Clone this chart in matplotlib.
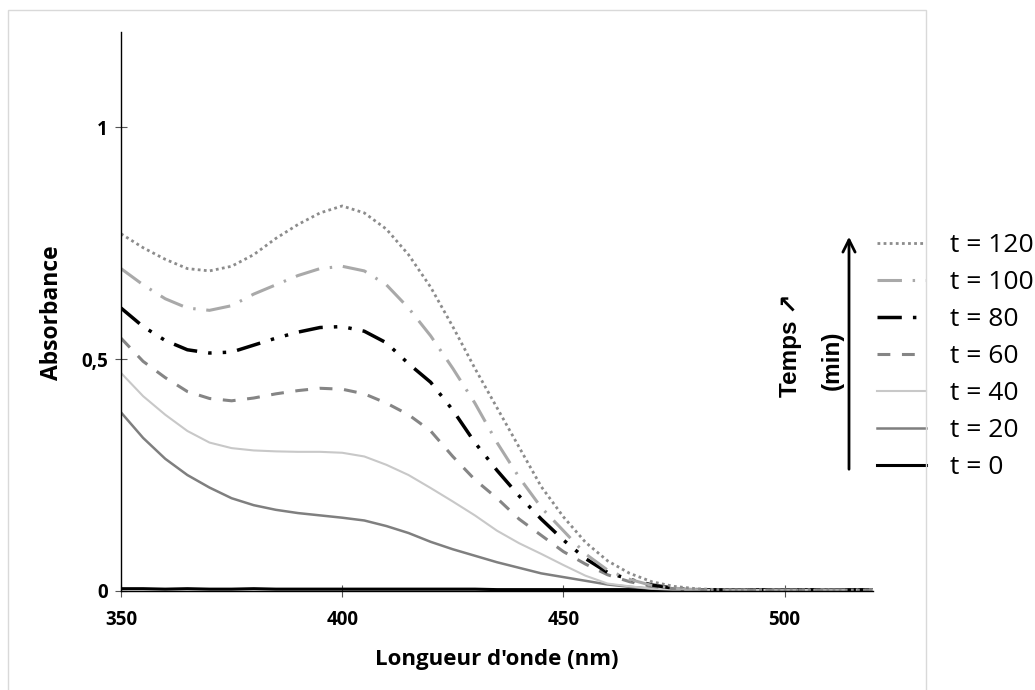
import matplotlib
matplotlib.use("Agg")
import matplotlib.pyplot as plt
import matplotlib.patches as patches
import numpy as np

# Données (absorbance en fonction de la longueur d'onde)
longueur_onde = np.arange(350, 525, 5)

abs_t0 = [0.005, 0.005, 0.004, 0.005, 0.004, 0.004, 0.005, 0.004, 0.004, 0.004,
          0.004, 0.004, 0.004, 0.004, 0.004, 0.004, 0.004, 0.003, 0.003, 0.003,
          0.003, 0.003, 0.003, 0.003, 0.003, 0.003, 0.003, 0.003, 0.003, 0.003,
          0.003, 0.003, 0.003, 0.003, 0.003]
abs_t20 = [0.385, 0.33, 0.285, 0.25, 0.223, 0.2, 0.185, 0.175, 0.168, 0.163,
           0.158, 0.152, 0.14, 0.125, 0.106, 0.09, 0.076, 0.062, 0.05, 0.038,
           0.03, 0.022, 0.014, 0.009, 0.005, 0.003, 0.002, 0.002, 0.002, 0.002,
           0.002, 0.002, 0.002, 0.002, 0.002]
abs_t40 = [0.47, 0.42, 0.38, 0.345, 0.32, 0.308, 0.303, 0.301, 0.30, 0.30,
           0.298, 0.29, 0.272, 0.25, 0.222, 0.193, 0.163, 0.13, 0.103, 0.08,
           0.056, 0.033, 0.016, 0.01, 0.005, 0.003, 0.002, 0.002, 0.002, 0.002,
           0.002, 0.002, 0.002, 0.002, 0.002]
abs_t60 = [0.545, 0.495, 0.46, 0.43, 0.415, 0.41, 0.416, 0.425, 0.432, 0.437,
           0.435, 0.425, 0.405, 0.38, 0.345, 0.29, 0.24, 0.2, 0.155, 0.12,
           0.085, 0.058, 0.035, 0.02, 0.01, 0.005, 0.003, 0.002, 0.002, 0.002,
           0.002, 0.002, 0.002, 0.002, 0.002]
abs_t80 = [0.61, 0.57, 0.54, 0.52, 0.513, 0.515, 0.53, 0.545, 0.558, 0.568,
           0.57, 0.56, 0.535, 0.49, 0.45, 0.39, 0.32, 0.26, 0.205, 0.155,
           0.11, 0.07, 0.04, 0.025, 0.013, 0.006, 0.003, 0.002, 0.002, 0.002,
           0.002, 0.002, 0.002, 0.002, 0.002]
abs_t100 = [0.695, 0.66, 0.63, 0.61, 0.605, 0.615, 0.64, 0.66, 0.68, 0.695,
            0.70, 0.69, 0.66, 0.61, 0.55, 0.48, 0.405, 0.32, 0.245, 0.18,
            0.13, 0.08, 0.045, 0.025, 0.012, 0.006, 0.003, 0.002, 0.002, 0.002,
            0.002, 0.002, 0.002, 0.002, 0.002]
abs_t120 = [0.77, 0.74, 0.715, 0.695, 0.69, 0.70, 0.725, 0.76, 0.79, 0.815,
            0.83, 0.815, 0.78, 0.725, 0.655, 0.57, 0.48, 0.395, 0.31, 0.225,
            0.16, 0.105, 0.065, 0.038, 0.02, 0.01, 0.005, 0.003, 0.002, 0.002,
            0.002, 0.002, 0.002, 0.002, 0.002]

labels = ['t = 0', 't = 20', 't = 40', 't = 60', 't = 80', 't = 100', 't = 120']

fig = plt.figure(figsize=(10.35, 6.9), dpi=100)
ax = fig.add_axes([121/1035, 99/690, 752/1035, 559/690])

# cadre gris clair de la zone du graphique
fig.add_artist(patches.Rectangle((8/1035, -0.01), 918/1035, 680/690 + 0.01,
                                 transform=fig.transFigure, fill=False,
                                 edgecolor='#d9d9d9', linewidth=1))

courbes = [
    (abs_t0, dict(color='black', lw=2.2, ls='-')),
    (abs_t20, dict(color='#7f7f7f', lw=1.8, ls='-')),
    (abs_t40, dict(color='#c8c8c8', lw=1.5, ls='-')),
    (abs_t60, dict(color='#858585', lw=2.2, ls=(0, (4.2, 3.8)))),
    (abs_t80, dict(color='black', lw=2.5, ls=(0, (7, 3.2, 1, 3.2, 1, 3.2)))),
    (abs_t100, dict(color='#a9a9a9', lw=2.2, ls=(0, (8, 3.5, 0.8, 3.5)))),
    (abs_t120, dict(color='#8c8c8c', lw=2.0, ls=(0, (1, 1.2)))),
]
lignes = []
for (valeurs, style), lab in zip(courbes, labels):
    l, = ax.plot(longueur_onde, valeurs, label=lab, **style)
    lignes.append(l)

ax.set_xlim(350, 520)
ax.set_ylim(0, 1.205)
ax.set_xticks([350, 400, 450, 500])
ax.set_yticks([0, 0.5, 1])
ax.set_yticklabels(['0', '0,5', '1'])
for s in ['top', 'right']:
    ax.spines[s].set_visible(False)
ax.spines['left'].set_linewidth(1)
ax.spines['bottom'].set_linewidth(1)
ax.tick_params(direction='inout', length=9, width=0.8, color='#555555')
ax.tick_params(axis='x', pad=9)
ax.tick_params(axis='y', pad=5)
for t in ax.get_xticklabels() + ax.get_yticklabels():
    t.set_fontfamily('Open Sans')
    t.set_fontweight('bold')
    t.set_fontsize(13.5)

fig.text(497/1035, 1 - 660/690, "Longueur d'onde (nm)", ha='center', va='center',
         fontfamily='Open Sans', fontweight='bold', fontsize=16)
fig.text(52/1035, 1 - 313/690, 'Absorbance', ha='center', va='center',
         rotation=90, fontfamily='Open Sans', fontweight='bold', fontsize=16.5)

# légende, de t = 120 en haut à t = 0 en bas
leg = ax.legend(lignes[::-1], labels[::-1], loc='upper left',
                bbox_to_anchor=(877/1035, 1 - 233/690), bbox_transform=fig.transFigure,
                frameon=False, borderpad=0, borderaxespad=0,
                handlelength=1.87, handletextpad=0.9, labelspacing=0.455,
                prop={'family': 'Open Sans', 'size': 19})

# flèche du temps
ax.annotate('', xy=(849/1035, 1 - 234/690), xytext=(849/1035, 1 - 472/690),
            xycoords='figure fraction', textcoords='figure fraction',
            arrowprops=dict(arrowstyle='->', color='black', lw=2, mutation_scale=22))
fig.text(791/1035, 1 - 345/690, 'Temps \u2197', rotation=90, ha='center', va='center',
         fontfamily=['Liberation Sans', 'DejaVu Sans'], fontweight='bold', fontsize=17.5)
fig.text(832/1035, 1 - 360/690, '(min)', rotation=90, ha='center', va='center',
         fontfamily='Liberation Sans', fontweight='bold', fontsize=17.5)

fig.savefig('out.png', dpi=100)
